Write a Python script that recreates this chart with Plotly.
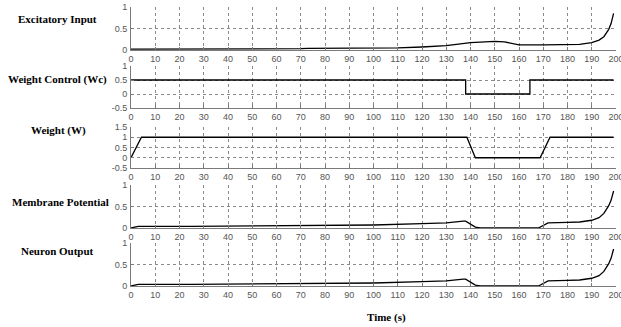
import plotly.graph_objects as go

# ---------------- data ----------------
exc_t = [0, 20, 22, 70, 73, 100, 110, 120, 130, 140, 150, 154, 160, 170, 180, 185, 190, 193, 195, 197, 198, 199]
exc_v = [0.02, 0.02, 0.03, 0.03, 0.04, 0.04, 0.05, 0.07, 0.10, 0.17, 0.20, 0.19, 0.12, 0.12, 0.12, 0.13, 0.17, 0.23, 0.31, 0.48, 0.62, 0.85]

wc_t = [0, 138, 138, 164.5, 164.5, 199]
wc_v = [0.5, 0.5, 0.0, 0.0, 0.5, 0.5]

w_t = [0, 4.3, 138.5, 142, 168.7, 172.8, 199]
w_v = [0.0, 1.0, 1.0, 0.0, 0.0, 1.0, 1.0]

mem_t = [0, 3, 25, 75, 100, 120, 130, 137, 138, 142, 144, 168, 172, 180, 185, 190, 193, 195, 197, 198, 199]
mem_v = [0.0, 0.04, 0.04, 0.05, 0.07, 0.10, 0.12, 0.16, 0.16, 0.02, 0.0, 0.0, 0.12, 0.13, 0.14, 0.18, 0.24, 0.34, 0.52, 0.65, 0.86]

out_t = [0, 3, 25, 75, 100, 120, 130, 137, 138, 142, 144, 168, 172, 180, 185, 190, 193, 195, 197, 198, 199]
out_v = [0.0, 0.04, 0.04, 0.05, 0.07, 0.10, 0.12, 0.16, 0.16, 0.02, 0.0, 0.0, 0.12, 0.13, 0.14, 0.18, 0.24, 0.34, 0.52, 0.65, 0.86]

panel_titles = ["Excitatory Input", "Weight Control (Wc)", "Weight (W)", "Membrane Potential", "Neuron Output"]
x_ticks = list(range(0, 201, 10))
y_ticks = [[0, 0.5, 1], [-0.5, 0, 0.5, 1], [-0.5, 0, 0.5, 1, 1.5], [0, 0.5, 1], [0, 0.5, 1]]
y_tick_text = [["0", "0.5", "1"], ["-0.5", "0", "0.5", "1"], ["-0.5", "0", "0.5", "1", "1.5"], ["0", "0.5", "1"], ["0", "0.5", "1"]]
y_ranges = [[0, 1], [-0.5, 1], [-0.5, 1.5], [0, 1], [0, 1]]
x_label = "Time (s)"

series = [(exc_t, exc_v), (wc_t, wc_v), (w_t, w_v), (mem_t, mem_v), (out_t, out_v)]

# ---------------- layout (page pixels) ----------------
W, H = 621, 327
px_left, px_right = 131, 616
panels_px = [(7, 50), (66, 108), (127, 168), (185, 228), (243, 286)]
title_px = [(57, 19), (57, 79), (58, 130), (60, 202), (57, 251)]


def px(x):
    return x / W


def py(y):
    return 1 - y / H


fig = go.Figure()
tick_font = dict(family="Liberation Sans, Arial, sans-serif", size=9, color="#555555")

for i, (t, v) in enumerate(series):
    n = "" if i == 0 else str(i + 1)
    fig.add_trace(go.Scatter(x=t, y=v, mode="lines", line=dict(color="black", width=1.3),
                             xaxis="x" + n, yaxis="y" + n, showlegend=False, hoverinfo="skip"))
    top, bot = panels_px[i]
    fig.layout["xaxis" + n] = dict(
        domain=[px(px_left), px(px_right)], anchor="y" + n, range=[0, 200], automargin=False,
        tickvals=x_ticks, ticktext=[str(k) for k in x_ticks], ticklabeloverflow="allow",
        showgrid=True, gridcolor="#8a8a8a", griddash="dot", gridwidth=1,
        showline=True, linecolor="#7a7a7a", linewidth=1, zeroline=False,
        ticks="inside", ticklen=3, tickcolor="#7a7a7a", tickfont=tick_font, ticklabelstandoff=0,
    )
    fig.layout["yaxis" + n] = dict(
        domain=[py(bot), py(top)], anchor="x" + n, range=y_ranges[i], automargin=False,
        tickvals=y_ticks[i], ticktext=y_tick_text[i], ticklabeloverflow="allow",
        showgrid=True, gridcolor="#8a8a8a", griddash="dot", gridwidth=1,
        showline=True, linecolor="#7a7a7a", linewidth=1, zeroline=False,
        ticks="inside", ticklen=3, tickcolor="#7a7a7a", tickfont=tick_font, ticklabelstandoff=1,
    )

annotations = []
title_font = dict(family="Liberation Serif, Times New Roman, serif", size=11, color="black")
for (cx, cy), txt in zip(title_px, panel_titles):
    annotations.append(dict(text="<b>%s</b>" % txt, x=px(cx), y=py(cy), xref="paper", yref="paper",
                            showarrow=False, xanchor="center", yanchor="middle", font=title_font))
annotations.append(dict(text="<b>%s</b>" % x_label, x=px(386), y=py(317), xref="paper", yref="paper",
                        showarrow=False, xanchor="center", yanchor="middle", font=title_font))

fig.update_layout(width=W, height=H, margin=dict(l=0, r=0, t=0, b=0),
                  paper_bgcolor="white", plot_bgcolor="white", annotations=annotations)

fig.write_html("out.html", config={"displayModeBar": False, "staticPlot": True},
               post_script="document.body.style.margin='0';document.body.style.overflow='hidden';")
